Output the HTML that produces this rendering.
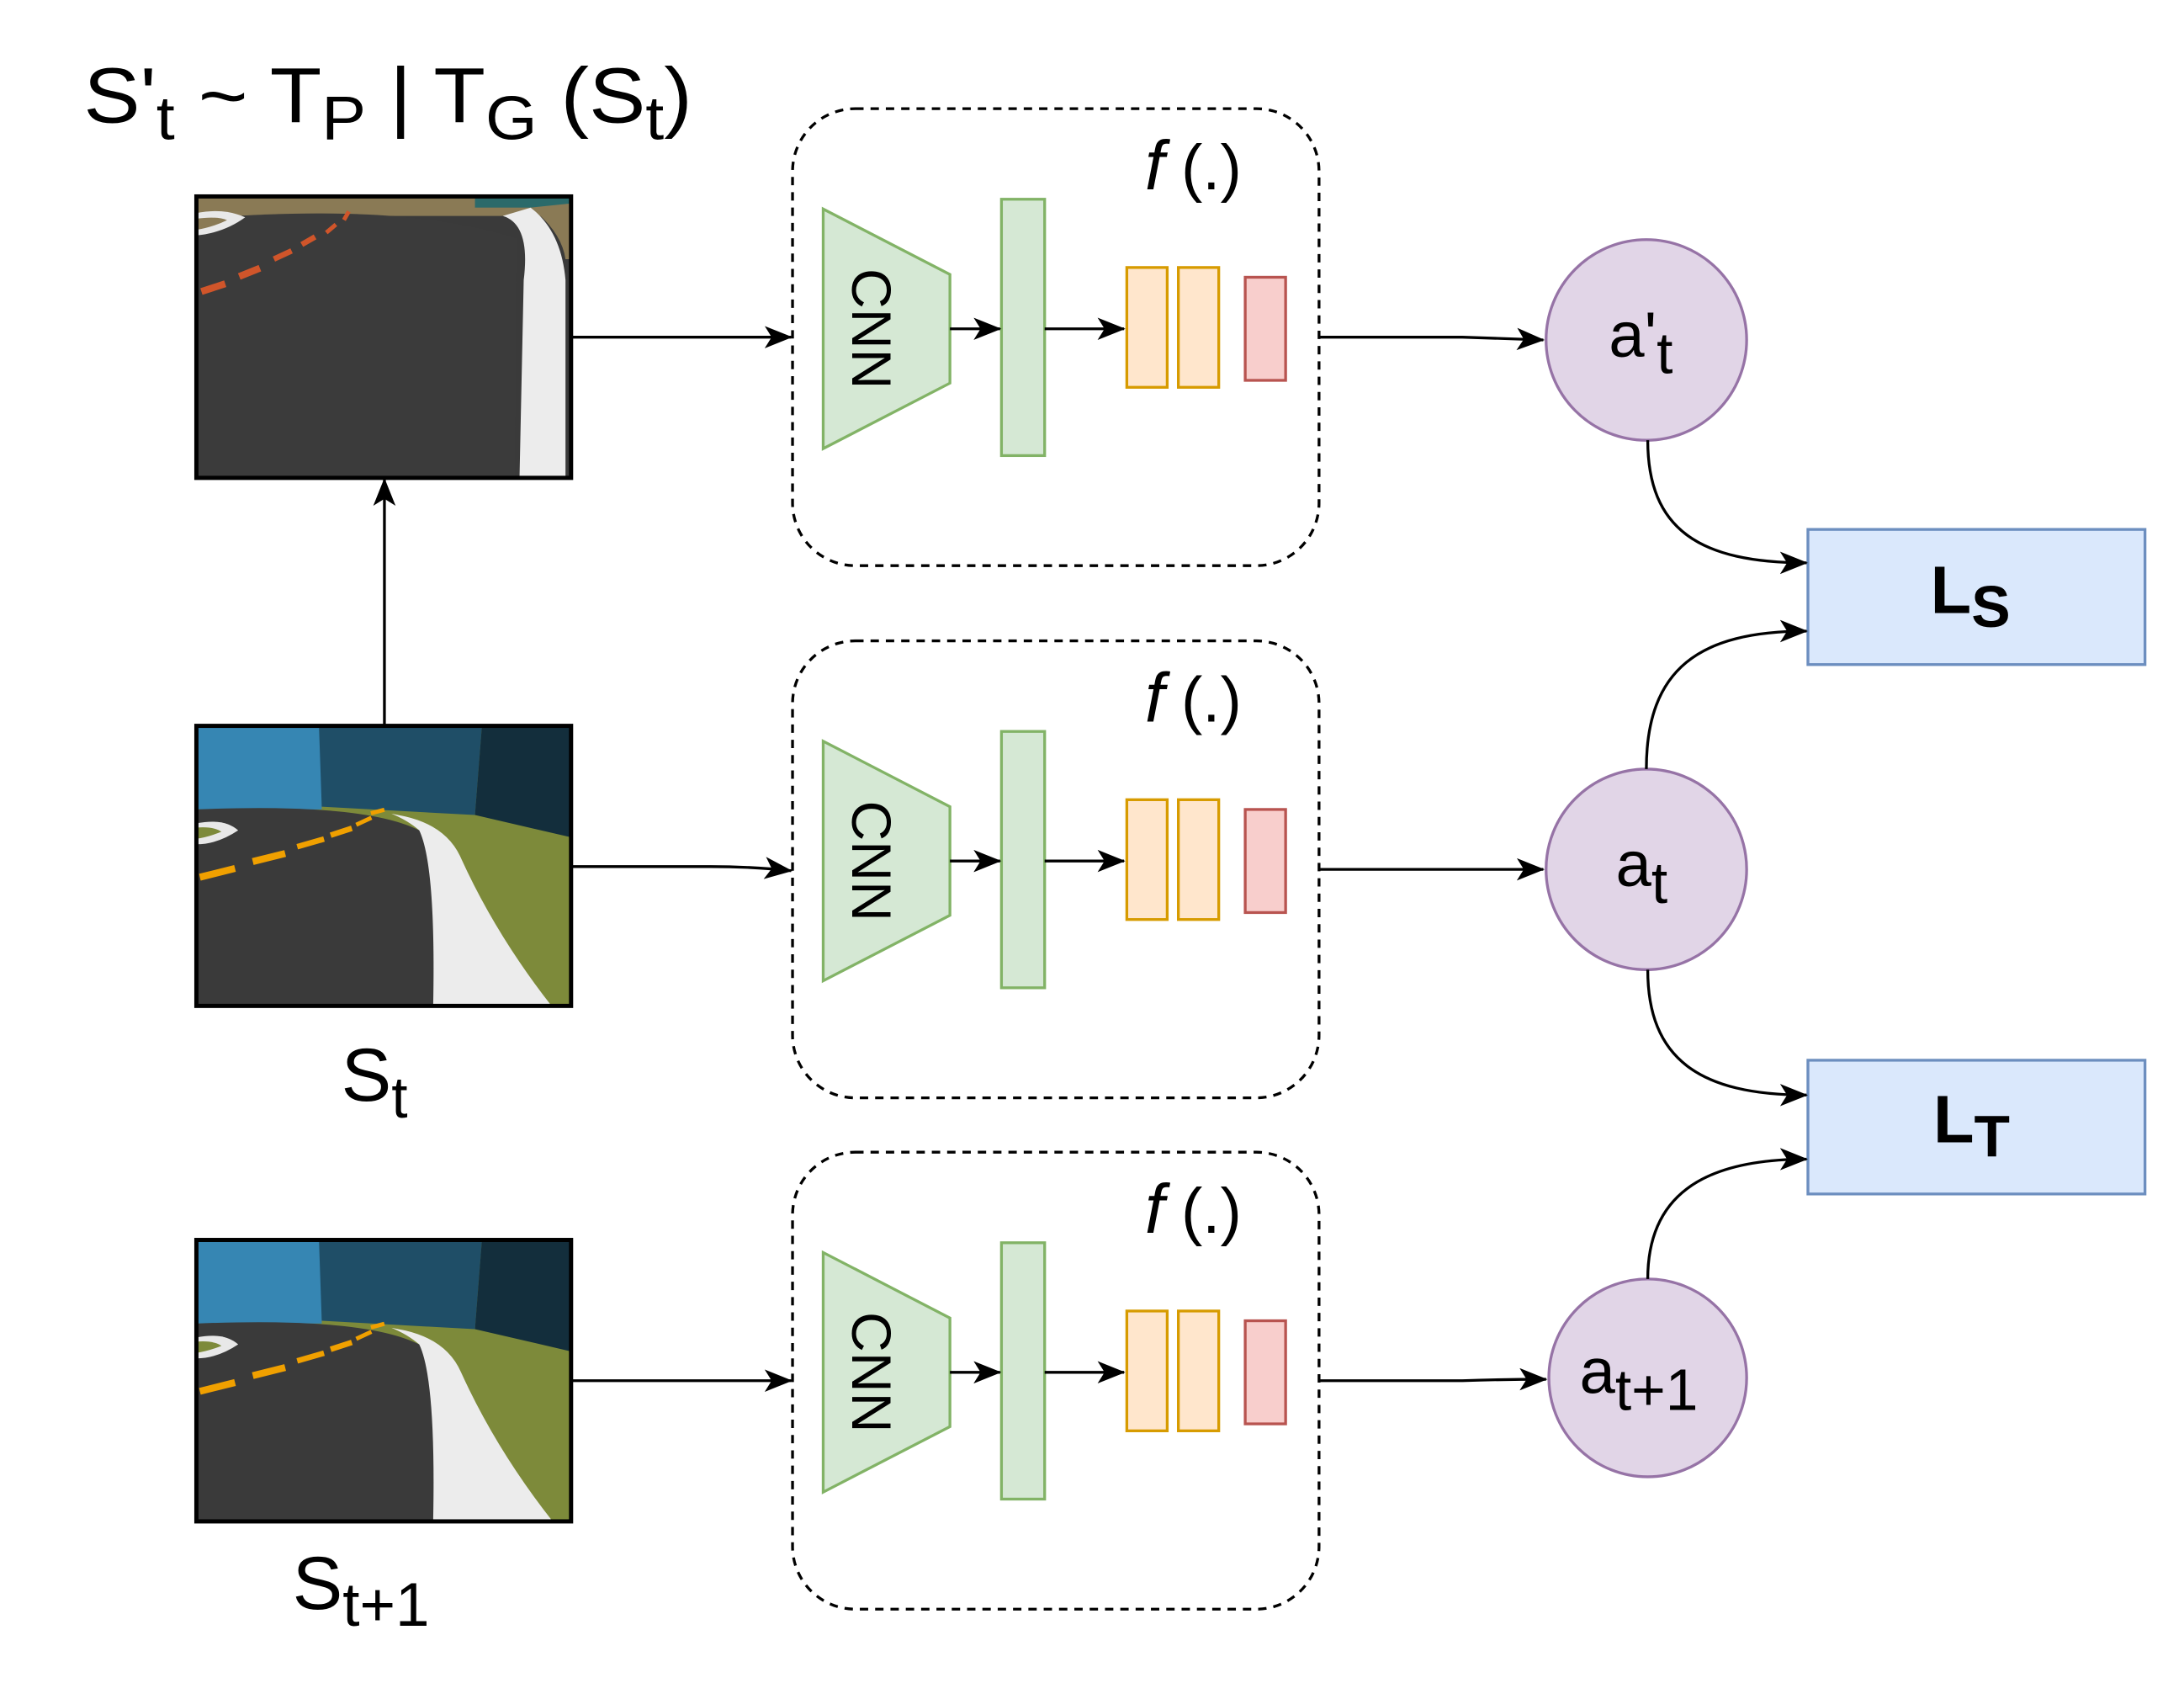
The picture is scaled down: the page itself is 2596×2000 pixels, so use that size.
<!DOCTYPE html>
<html><head><meta charset="utf-8"><style>
html,body{margin:0;padding:0;background:#fff;}
svg{display:block;}
text{font-family:"Liberation Sans",sans-serif;}
</style></head><body>
<svg width="2596" height="2000" viewBox="0 0 1568 1208" preserveAspectRatio="none" xmlns="http://www.w3.org/2000/svg">
<defs>
<marker id="ah" viewBox="0 0 20 20" refX="19" refY="10" markerWidth="20" markerHeight="20" markerUnits="userSpaceOnUse" orient="auto">
<path d="M0,2 L20,10 L0,18 L5,10 Z" fill="#000"/>
</marker>
<g id="roadA">
  <rect x="0" y="0" width="269" height="201" fill="#3a3a3a"/>
  <rect x="0" y="0" width="269" height="14" fill="#8a7a55"/>
  <rect x="200" y="0" width="69" height="8" fill="#2b6a6a"/>
  <path d="M0,16 Q150,4 230,30 L229,201 L0,201 Z" fill="#3b3b3b"/>
  <path d="M220,14 Q240,20 235,60 L232,201 L265,201 L265,60 Q262,25 240,8 Z" fill="#ececec"/>
  <path d="M240,8 Q262,25 265,45 L269,45 L269,5 Z" fill="#8a7a55"/>
  <path d="M0,12 Q20,8 35,15 Q20,26 0,28 Z" fill="#e8e8e8"/>
  <path d="M0,16 Q15,14 22,17 Q12,22 0,24 Z" fill="#8a7a55"/>
  <g fill="#d0552a"><rect x="3" y="63" width="18" height="5" transform="rotate(-18 12 65)"/><rect x="30" y="52" width="16" height="5" transform="rotate(-22 38 54)"/><rect x="55" y="40" width="14" height="4" transform="rotate(-25 62 42)"/><rect x="75" y="30" width="11" height="4" transform="rotate(-30 80 32)"/><rect x="92" y="22" width="9" height="3" transform="rotate(-40 96 23)"/><rect x="104" y="13" width="7" height="3" transform="rotate(-60 107 14)"/></g>
</g>
<g id="roadB">
  <rect x="0" y="0" width="269" height="201" fill="#7d8a3a"/>
  <rect x="0" y="0" width="90" height="60" fill="#3686b3"/>
  <path d="M88,0 L205,0 L200,64 L90,58 Z" fill="#1f4e67"/>
  <path d="M205,0 L269,0 L269,80 L200,64 Z" fill="#132e3c"/>
  <path d="M0,60 Q120,55 160,75 Q175,95 174,201 L0,201 Z" fill="#3a3a3a"/>
  <path d="M150,65 Q180,72 190,95 Q215,150 255,201 L170,201 Q172,100 160,75 Q152,68 140,63 Z" fill="#ececec"/>
  <path d="M0,70 Q20,66 30,75 Q15,85 0,85 Z" fill="#e8e8e8"/>
  <path d="M0,73 Q12,72 18,76 Q8,80 0,81 Z" fill="#7d8a3a"/>
  <g fill="#f0a000"><rect x="2" y="103" width="26" height="5" transform="rotate(-14 15 105)"/><rect x="40" y="92" width="24" height="5" transform="rotate(-14 52 94)"/><rect x="72" y="82" width="20" height="4" transform="rotate(-16 82 84)"/><rect x="96" y="74" width="16" height="4" transform="rotate(-18 104 76)"/><rect x="114" y="67" width="12" height="3" transform="rotate(-25 120 68)"/><rect x="125" y="60" width="10" height="3" transform="rotate(-15 130 61)"/></g>
</g>
</defs>

<text x="60" y="88" font-size="56" textLength="437" lengthAdjust="spacingAndGlyphs"><tspan>S'</tspan><tspan font-size="44" dy="12">t</tspan><tspan dy="-12"> ~ T</tspan><tspan font-size="44" dy="12">P</tspan><tspan dy="-12"> | T</tspan><tspan font-size="44" dy="12">G</tspan><tspan dy="-12"> (S</tspan><tspan font-size="44" dy="12">t</tspan><tspan dy="-12">)</tspan></text>

<g transform="translate(141,141)"><use href="#roadA"/><rect x="0" y="0" width="269" height="202" fill="none" stroke="#000" stroke-width="3"/></g>
<g transform="translate(141,521)"><use href="#roadB"/><rect x="0" y="0" width="269" height="201" fill="none" stroke="#000" stroke-width="3"/></g>
<g transform="translate(141,890)"><use href="#roadB"/><rect x="0" y="0" width="269" height="202" fill="none" stroke="#000" stroke-width="3"/></g>

<text x="245" y="790" font-size="54"><tspan>S</tspan><tspan font-size="42" dy="12">t</tspan></text>
<text x="210" y="1155" font-size="54"><tspan>S</tspan><tspan font-size="44" dy="12">t+1</tspan></text>

<line x1="276" y1="521" x2="276" y2="344" stroke="#000" stroke-width="2" marker-end="url(#ah)"/>

<g id="blk">
<rect x="569" y="78" width="378" height="328" rx="45" fill="none" stroke="#000" stroke-width="2" stroke-dasharray="6,5"/>
<polygon points="591,150 682,197 682,275 591,322" fill="#d5e8d4" stroke="#82b366" stroke-width="2"/>
<text x="0" y="0" font-size="40" transform="translate(612,236) rotate(90)" text-anchor="middle">CNN</text>
<rect x="719" y="143" width="31" height="184" fill="#d5e8d4" stroke="#82b366" stroke-width="2"/>
<rect x="809" y="192" width="29" height="86" fill="#ffe6cc" stroke="#d79b00" stroke-width="2"/>
<rect x="846" y="192" width="29" height="86" fill="#ffe6cc" stroke="#d79b00" stroke-width="2"/>
<rect x="894" y="199" width="29" height="74" fill="#f8cecc" stroke="#b85450" stroke-width="2"/>
<line x1="682" y1="236" x2="718" y2="236" stroke="#000" stroke-width="2" marker-end="url(#ah)"/>
<line x1="750" y1="236" x2="807" y2="236" stroke="#000" stroke-width="2" marker-end="url(#ah)"/>
<text x="822" y="136" font-size="50" font-style="italic" font-family="Liberation Serif">f</text>
<text x="848" y="136" font-size="46">(.)</text>
</g>
<use href="#blk" transform="translate(0,382)"/>
<use href="#blk" transform="translate(0,749)"/>

<line x1="410" y1="242" x2="568" y2="242" stroke="#000" stroke-width="2" marker-end="url(#ah)"/>
<path d="M410,622 L510,622 Q540,622 568,625" fill="none" stroke="#000" stroke-width="2" marker-end="url(#ah)"/>
<line x1="410" y1="991" x2="568" y2="991" stroke="#000" stroke-width="2" marker-end="url(#ah)"/>

<path d="M948,242 L1050,242 Q1080,243 1108,244" fill="none" stroke="#000" stroke-width="2" marker-end="url(#ah)"/>
<line x1="948" y1="624" x2="1108" y2="624" stroke="#000" stroke-width="2" marker-end="url(#ah)"/>
<path d="M948,991 L1050,991 Q1080,990 1110,990" fill="none" stroke="#000" stroke-width="2" marker-end="url(#ah)"/>

<circle cx="1182" cy="244" r="72" fill="#e1d5e7" stroke="#9673a6" stroke-width="2"/>
<circle cx="1182" cy="624" r="72" fill="#e1d5e7" stroke="#9673a6" stroke-width="2"/>
<circle cx="1183" cy="989" r="71" fill="#e1d5e7" stroke="#9673a6" stroke-width="2"/>
<text x="1155" y="256" font-size="46"><tspan>a'</tspan><tspan font-size="42" dy="12">t</tspan></text>
<text x="1160" y="636" font-size="46"><tspan>a</tspan><tspan font-size="42" dy="12">t</tspan></text>
<text x="1134" y="1000" font-size="46"><tspan>a</tspan><tspan font-size="42" dy="12">t+1</tspan></text>

<rect x="1298" y="380" width="242" height="97" fill="#dae8fc" stroke="#6c8ebf" stroke-width="2"/>
<rect x="1298" y="761" width="242" height="96" fill="#dae8fc" stroke="#6c8ebf" stroke-width="2"/>
<text x="1386" y="440" font-size="48" font-weight="bold"><tspan>L</tspan><tspan font-size="42" dy="10">S</tspan></text>
<text x="1388" y="820" font-size="48" font-weight="bold"><tspan>L</tspan><tspan font-size="42" dy="10">T</tspan></text>

<path d="M1183,316 C1183,380 1220,404 1297,404" fill="none" stroke="#000" stroke-width="2" marker-end="url(#ah)"/>
<path d="M1182,552 C1182,480 1220,453 1297,453" fill="none" stroke="#000" stroke-width="2" marker-end="url(#ah)"/>
<path d="M1183,696 C1183,760 1220,786 1297,786" fill="none" stroke="#000" stroke-width="2" marker-end="url(#ah)"/>
<path d="M1183,918 C1183,860 1220,832 1297,832" fill="none" stroke="#000" stroke-width="2" marker-end="url(#ah)"/>
</svg>
</body></html>
